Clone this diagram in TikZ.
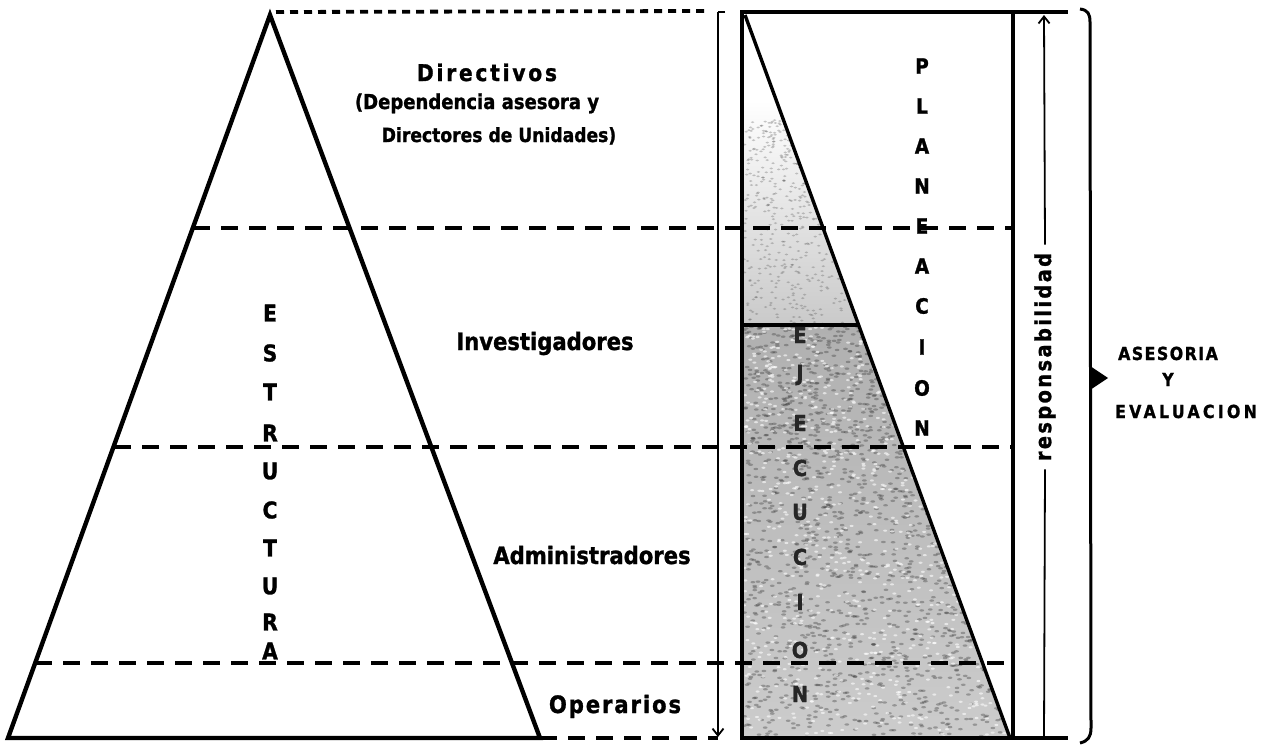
\documentclass[tikz,border=0pt]{standalone}
\usepackage{fontspec}
\newfontfamily\lab{DejaVu Sans}[FakeStretch=0.88, BoldFeatures={FakeBold=1.2}]
\usetikzlibrary{arrows.meta}
\tikzset{
  pyr/.style={line width=4.4pt, line join=miter},
  dsh/.style={line width=3.2pt, dash pattern=on 17pt off 11pt},
  dotl/.style={line width=3.8pt, dash pattern=on 8pt off 6pt},
  boxl/.style={line width=3.4pt},
  thinl/.style={line width=1.8pt},
  tip/.style={-{Straight Barb[length=7pt,width=11pt,line width=1.8pt]}},
  txt/.style={inner sep=0pt, anchor=base, font=\lab\bfseries\fontsize{#1}{#1}\selectfont},
  letr/.style={inner sep=0pt, font=\lab\bfseries\fontsize{#1}{#1}\selectfont},
}
\begin{document}
\begin{tikzpicture}[x=1pt,y=-1pt]
\useasboundingbox (0,0) rectangle (1267,745);
% --- key points
\coordinate (apex) at (270,15);
\coordinate (bl) at (8,738);
\coordinate (br) at (540,738);
\coordinate (dotend) at (706,11);
\coordinate (rtl) at (742,12);
\coordinate (rtr) at (1013,12);
\coordinate (rbl) at (742,738);
\coordinate (rbr) at (1013,738);
\coordinate (diagtop) at (745,15);
\coordinate (diagbot) at (1010,738);
\coordinate (ejtopl) at (744,325);
\coordinate (ejtopr) at (858.6,325);
% --- shading of the execution triangle
\begin{scope}
\clip (744,15) -- (ejtopr) -- (ejtopl) -- cycle;
\shade[top color=white, bottom color=gray!42] (744,100) rectangle (860,325);
\pgfmathsetseed{5}
\foreach \i in {1,...,380}{
  \pgfmathsetmacro\yy{120+rnd*205}
  \pgfmathsetmacro\xx{744+rnd*(1+(\yy-15)*0.3665)}
  \fill[black!70, opacity=0.3] (\xx,\yy) ellipse (1.8pt and 1pt);
}
\end{scope}
\shade[top color=gray!62, bottom color=gray!40] (ejtopl) -- (ejtopr) -- (diagbot) -- (744,738) -- cycle;
\begin{scope}
\clip (ejtopl) -- (ejtopr) -- (diagbot) -- (744,738) -- cycle;
\pgfmathsetseed{17}
\foreach \i in {1,...,1300}{
  \pgfmathsetmacro\yy{325+rnd*413}
  \pgfmathsetmacro\xx{744+rnd*(1+(\yy-15)*0.3665)}
  \fill[black!80, opacity=0.35] (\xx,\yy) ellipse (2.4pt and 1.2pt);
}
\foreach \i in {1,...,700}{
  \pgfmathsetmacro\yy{325+rnd*413}
  \pgfmathsetmacro\xx{744+rnd*(1+(\yy-15)*0.3665)}
  \fill[white, opacity=0.6] (\xx,\yy) ellipse (2pt and 1.1pt);
}
\end{scope}
% --- pyramid
\draw[pyr] (bl) -- (apex) -- (br) -- cycle;
% --- dashed level lines
\coordinate (d1a) at (193,228);  \coordinate (d1b) at (1013,228);
\coordinate (d2a) at (114,447);  \coordinate (d2b) at (1013,447);
\coordinate (d3a) at (35,663);   \coordinate (d3b) at (1013,663);
\coordinate (d4b) at (718,738);
\draw[dsh] (d1a) -- (d1b);
\draw[dsh] (d2a) -- (d2b);
\draw[dsh] (d3a) -- (d3b);
\draw[dsh] (br) -- (d4b);
\draw[dotl] (apex) ++(6,-3) -- (dotend);
% --- rectangle
\draw[boxl] (rbl) -- (rtl) -- (rtr) -- (rbr) -- cycle;
\draw[boxl] (rtr) -- (1068,12);
\draw[boxl] (rbr) -- (1068,738);
\draw[boxl] (diagtop) -- (diagbot);
\draw[boxl] (ejtopl) -- (ejtopr);
% --- left arrow line
\coordinate (la) at (718,12);
\coordinate (lb) at (718,737);
\draw[thinl] (725,12) -- (la);
\draw[thinl, tip] (la) -- (lb);
% --- responsabilidad
\node[letr=22, rotate=90, font=\lab\bfseries\fontsize{22}{22}\selectfont\addfontfeature{LetterSpace=11}] (resp) at (1045,357) {responsabilidad};
\coordinate (ra) at (1044,15);
\coordinate (rb) at (1044,738);
\draw[thinl, tip] (resp.east) ++(0,-8) -- (ra);
\draw[thinl] (resp.west) ++(0,8) -- (rb);
% --- brace
\draw[line width=3pt] (1080,9) .. controls (1088,10) and (1090,14) .. (1090,22) -- (1091,728) .. controls (1091,737) and (1088,741) .. (1080,743);
\fill (1090,366) -- (1108,378) -- (1090,390) -- cycle;
\node[txt=18, font=\lab\bfseries\fontsize{18}{18}\selectfont\addfontfeature{LetterSpace=8}] (ase) at (1168,360) {ASESORIA};
\node[txt=18] (yy) at (1168,386) {Y};
\node[txt=18, font=\lab\bfseries\fontsize{18}{18}\selectfont\addfontfeature{LetterSpace=18}] (eva) at (1186,418) {EVALUACION};
% --- level labels
\node[txt=23, font=\lab\bfseries\fontsize{23}{23}\selectfont\addfontfeature{LetterSpace=12}] (dir1) at (487,81) {Directivos};
\node[txt=20.5] (dir2) at (477,109) {(Dependencia asesora y};
\node[txt=19.5] (dir3) at (499,142) {Directores de Unidades)};
\node[txt=24] (inv) at (545,350) {Investigadores};
\node[txt=24] (adm) at (592,564) {Administradores};
\node[txt=24, font=\lab\bfseries\fontsize{24}{24}\selectfont\addfontfeature{LetterSpace=8}] (ope) at (615,713) {Operarios};
% --- vertical words
\foreach \l/\y [count=\k] in {E/313,S/353,T/392,R/433,U/471,C/510,T/548,U/586,R/622,A/651}
  \node[letr=23] (es\k) at (270,\y) {\l};
\foreach \l/\y [count=\k] in {P/66,L/106,A/146,N/186,E/226,A/266,C/306,I/347,O/388,N/428}
  \node[letr=21] (pl\k) at (922,\y) {\l};
\foreach \l/\y [count=\k] in {E/335,J/375,E/423,C/468,U/512,C/557,I/602,O/650,N/694}
  \node[letr=22, text=black!85] (ej\k) at (800,\y) {\l};
\end{tikzpicture}
\end{document}
